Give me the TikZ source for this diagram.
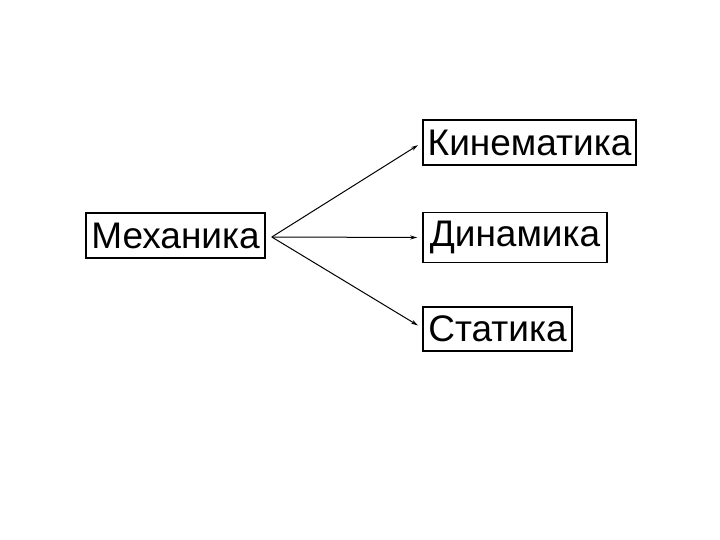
\documentclass[tikz,border=0pt]{standalone}
\usepackage{fontspec}
\setmainfont{Liberation Sans}
\usetikzlibrary{arrows.meta}
\begin{document}
\begin{tikzpicture}[x=1pt, y=-1pt,
            box/.style={draw, line width=1.6pt, inner sep=0, font=\fontsize{37}{40}\selectfont},
            arr/.style={line width=1pt, -{Stealth[length=7pt, width=4pt]}, shorten >=5pt},
        ]
        \useasboundingbox (0,0) rectangle (720,540);
        \node[box, minimum width=179pt, minimum height=45pt] (mech) at (175.5,235.5) {Механика};
        \node[box, minimum width=213pt, minimum height=45pt] (kin) at (529.5,142.5) {Кинематика};
        \node[box, minimum width=184pt, minimum height=50pt] (dyn) at (515,237.5) {Динамика};
        \node[box, minimum width=149pt, minimum height=44pt] (stat) at (497.5,329) {Статика};
        \coordinate (fork) at ([xshift=6pt, yshift=-1.5pt]mech.east);
        \draw[arr] (fork) -- (kin.west);
        \draw[arr] (fork) -- (dyn.west);
        \draw[arr] (fork) -- ([yshift=1pt]stat.west);
    \end{tikzpicture}
\end{document}
